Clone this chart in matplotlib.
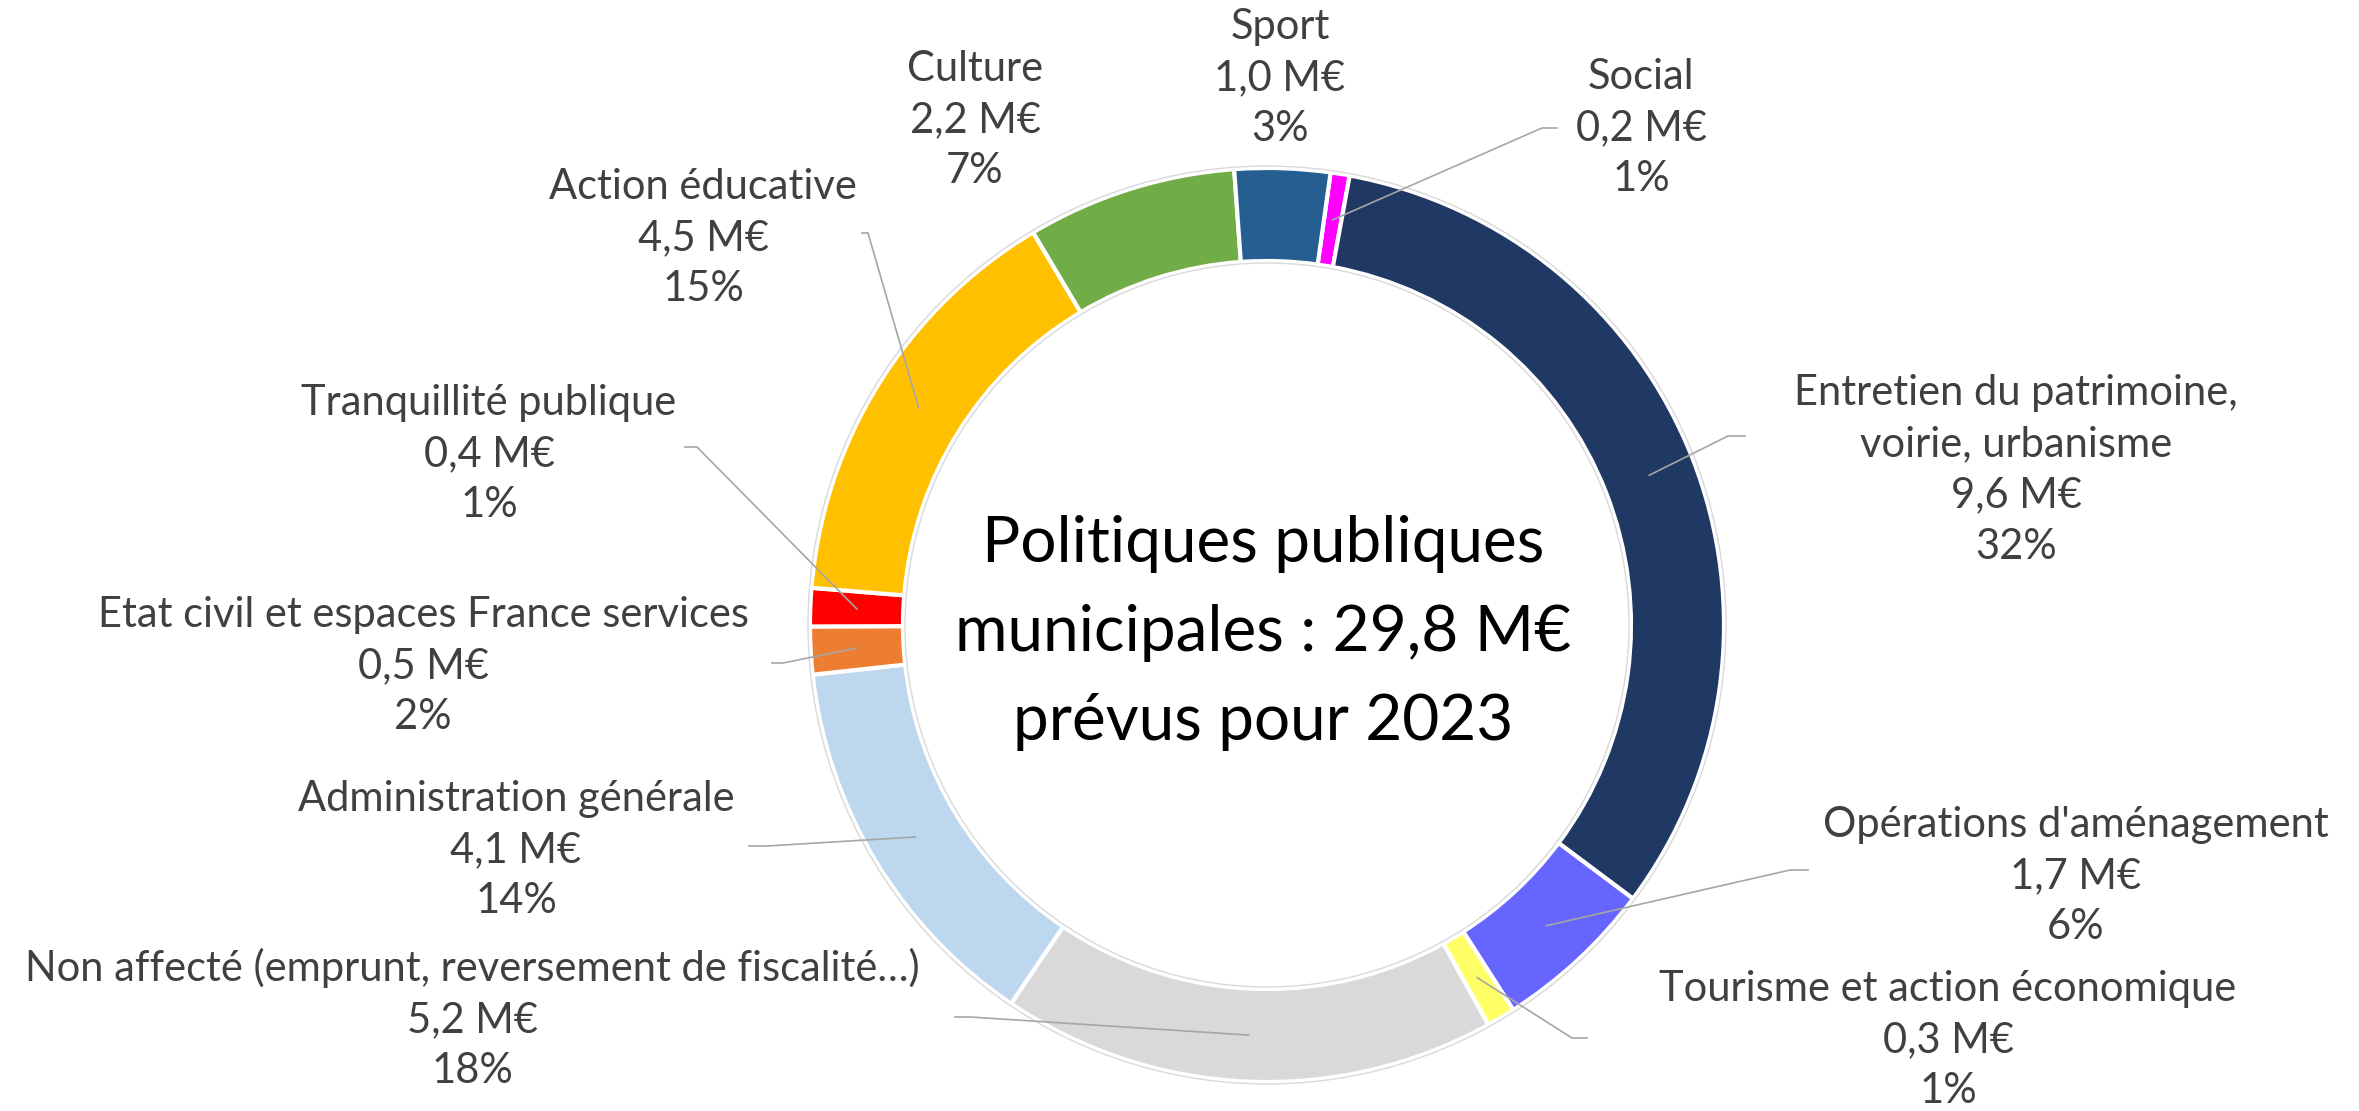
import numpy as np
import matplotlib
matplotlib.use("Agg")
import matplotlib.pyplot as plt
from matplotlib.patches import Circle

plt.rcParams['font.family'] = ['Lato', 'DejaVu Sans']

# donut data, clockwise from just right of the top
categories = ["Social", "Entretien du patrimoine,\nvoirie, urbanisme", "Opérations d'aménagement",
              "Tourisme et action économique", "Non affecté (emprunt, reversement de fiscalité…)",
              "Administration générale", "Etat civil et espaces France services",
              "Tranquillité publique", "Action éducative", "Culture", "Sport"]
amounts = [0.2, 9.6, 1.7, 0.3, 5.2, 4.1, 0.5, 0.4, 4.5, 2.2, 1.0]
amount_labels = ["0,2 M€", "9,6 M€", "1,7 M€", "0,3 M€", "5,2 M€", "4,1 M€",
                 "0,5 M€", "0,4 M€", "4,5 M€", "2,2 M€", "1,0 M€"]
pct_labels = ["1%", "32%", "6%", "1%", "18%", "14%", "2%", "1%", "15%", "7%", "3%"]
colors = ["#FF00FF", "#203864", "#6666FF", "#FFFF66", "#D9D9D9", "#BDD7EE",
          "#ED7D31", "#FF0000", "#FFC000", "#70AD47", "#255E91"]
center_text = "Politiques publiques\nmunicipales : 29,8 M€\nprévus pour 2023"

W, H = 2359, 1111
fig = plt.figure(figsize=(W / 100, H / 100), dpi=100)
ax = fig.add_axes([0, 0, 1, 1])

cx, cy = 1267, H - 625
R, ring = 457, 93

wedges, _ = ax.pie(amounts, radius=R, center=(cx, cy), startangle=82, counterclock=False,
                   colors=colors, frame=True,
                   wedgeprops=dict(width=ring, edgecolor='white', linewidth=3))
ax.set_xlim(0, W)
ax.set_ylim(0, H)
ax.set_aspect('equal')
ax.axis('off')
ax.add_patch(Circle((cx, cy), R + 2, fill=False, edgecolor='#D9D9D9', lw=1))
ax.add_patch(Circle((cx, cy), R - ring - 2, fill=False, edgecolor='#D9D9D9', lw=1))

# label centre (x, y of the block centre) in image pixels, and leader line (kink, end)
label_pos = [(1641, 128), (2016, 470), (2076, 876), (1948, 1040), (472, 1019),
             (516, 850), (423, 666), (489, 454), (703, 238), (975, 120), (1280, 78)]
leaders = [((1542, 128), (1557, 128)), ((1728, 436), (1745, 436)), ((1790, 870), (1808, 870)),
           ((1572, 1038), (1587, 1038)), ((970, 1017), (955, 1017)), ((767, 846), (749, 846)),
           ((783, 663), (772, 663)), ((697, 447), (685, 447)), ((868, 233), (862, 233)),
           None, None]

for w, name, amt, pct, (lx, ly), ld in zip(wedges, categories, amount_labels, pct_labels,
                                           label_pos, leaders):
    ax.text(lx, H - ly, f"{name}\n{amt}\n{pct}", ha='center', va='center', fontsize=30,
            color='#404040', linespacing=1.42)
    if ld is not None:
        mid = np.deg2rad((w.theta1 + w.theta2) / 2)
        rm = R - ring / 2
        px, py = cx + rm * np.cos(mid), cy + rm * np.sin(mid)
        (kx, ky), (ex, ey) = ld
        ax.plot([px, kx, ex], [py, H - ky, H - ey], color='#A6A6A6', lw=1.2, zorder=5)

ax.text(cx - 4, cy - 8, center_text, ha='center', va='center', fontsize=46,
        color='black', linespacing=1.66)

fig.savefig("out.png", dpi=100)
